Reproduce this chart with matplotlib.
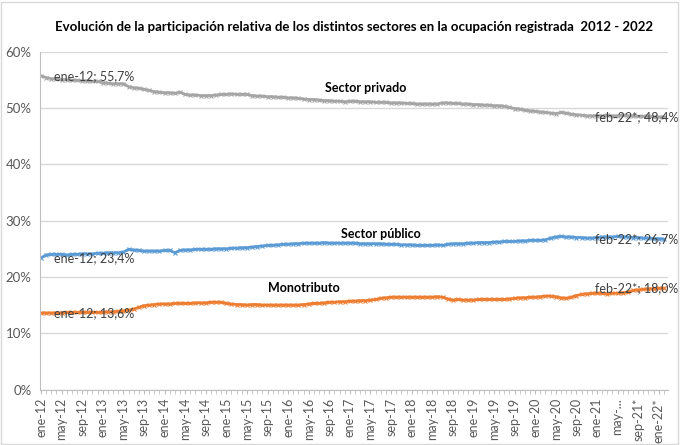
import numpy as np
import matplotlib.pyplot as plt
from matplotlib.patches import Rectangle

plt.rcParams['font.family'] = ['Lato', 'DejaVu Sans']

# participacion mensual (%), ene-12 a feb-22
privado = [55.7, 55.4, 55.2, 55.1, 55.0, 55.0, 54.9, 54.9, 54.8, 54.8, 54.7, 54.7,
           54.5, 54.4, 54.3, 54.3, 54.3, 53.8, 53.6, 53.5, 53.3, 53.1, 52.9, 52.8,
           52.7, 52.7, 52.6, 52.8, 52.4, 52.3, 52.3, 52.2, 52.2, 52.2, 52.3, 52.4,
           52.4, 52.5, 52.4, 52.4, 52.4, 52.2, 52.1, 52.1, 52.0, 52.0, 51.9, 51.9,
           51.8, 51.8, 51.7, 51.6, 51.5, 51.5, 51.4, 51.3, 51.3, 51.2, 51.2, 51.1,
           51.2, 51.2, 51.1, 51.1, 51.1, 51.0, 51.0, 51.0, 50.9, 50.9, 50.9, 50.8,
           50.8, 50.7, 50.7, 50.7, 50.7, 50.7, 50.9, 50.9, 50.8, 50.8, 50.7, 50.7,
           50.6, 50.6, 50.5, 50.5, 50.4, 50.4, 50.3, 50.1, 49.9, 49.8, 49.6, 49.5,
           49.4, 49.3, 49.2, 49.1, 49.0, 49.2, 49.1, 48.9, 48.8, 48.7, 48.6, 48.6,
           48.6, 48.6, 48.7, 48.6, 48.6, 48.7, 48.6, 48.6, 48.5, 48.5, 48.5, 48.4,
           48.4, 48.4]
publico = [23.4, 23.9, 24.0, 24.0, 24.0, 23.9, 24.0, 24.0, 24.1, 24.1, 24.1, 24.2,
           24.2, 24.3, 24.3, 24.3, 24.4, 24.9, 24.8, 24.7, 24.6, 24.6, 24.6, 24.6,
           24.7, 24.7, 24.3, 24.7, 24.8, 24.8, 24.9, 24.9, 24.9, 24.9, 25.0, 25.0,
           25.0, 25.1, 25.1, 25.2, 25.2, 25.3, 25.4, 25.5, 25.6, 25.6, 25.7, 25.8,
           25.8, 25.9, 25.9, 26.0, 26.0, 26.0, 26.0, 26.1, 26.0, 26.0, 26.0, 26.0,
           26.0, 26.0, 25.9, 25.9, 25.9, 25.9, 25.9, 25.8, 25.8, 25.8, 25.7, 25.7,
           25.7, 25.6, 25.6, 25.6, 25.6, 25.7, 25.6, 25.8, 25.9, 25.9, 25.9, 26.0,
           26.0, 26.1, 26.1, 26.1, 26.2, 26.2, 26.3, 26.3, 26.3, 26.4, 26.4, 26.5,
           26.5, 26.5, 26.6, 26.9, 27.1, 27.2, 27.1, 27.1, 27.0, 27.0, 26.9, 26.9,
           27.0, 27.1, 27.1, 27.1, 27.2, 27.1, 27.1, 27.0, 27.0, 26.9, 26.9, 26.8,
           26.8, 26.7]
monotributo = [13.6, 13.6, 13.6, 13.6, 13.6, 13.7, 13.7, 13.7, 13.7, 13.7, 13.7, 13.7,
               13.7, 13.8, 13.8, 13.9, 14.0, 14.1, 14.3, 14.6, 14.9, 15.0, 15.1, 15.2,
               15.2, 15.2, 15.3, 15.3, 15.3, 15.3, 15.4, 15.4, 15.4, 15.5, 15.5, 15.5,
               15.3, 15.2, 15.1, 15.1, 15.0, 15.1, 15.1, 15.0, 15.0, 15.0, 15.0, 15.0,
               15.0, 15.0, 15.0, 15.1, 15.2, 15.3, 15.3, 15.4, 15.5, 15.5, 15.6, 15.6,
               15.7, 15.7, 15.8, 15.8, 15.9, 16.0, 16.2, 16.3, 16.4, 16.4, 16.4, 16.4,
               16.4, 16.4, 16.4, 16.4, 16.4, 16.5, 16.4, 16.1, 15.9, 16.0, 15.9, 15.9,
               15.9, 16.0, 16.0, 16.0, 16.0, 16.0, 16.0, 16.1, 16.2, 16.3, 16.3, 16.4,
               16.4, 16.5, 16.6, 16.6, 16.5, 16.3, 16.2, 16.4, 16.7, 16.9, 17.0, 17.1,
               17.1, 17.1, 17.0, 17.1, 17.1, 17.2, 17.3, 17.6, 17.7, 17.8, 17.9, 17.9,
               18.0, 18.0]

meses = ['ene', 'may', 'sep']
etiquetas = []
for a in range(12, 22):
    for m in meses:
        etiquetas.append('{}-{}'.format(m, a))
etiquetas[-2] = 'may-...'
etiquetas[-1] = 'sep-21*'
etiquetas.append('ene-22*')

series = [('Sector privado', privado, '#A5A5A5', '55,7%', '48,4%'),
          ('Sector público', publico, '#5B9BD5', '23,4%', '26,7%'),
          ('Monotributo', monotributo, '#ED7D31', '13,6%', '18,0%')]
nombres_pos = {'Sector privado': (63, 53.5), 'Sector público': (66, 27.6), 'Monotributo': (51, 18.0)}

fig = plt.figure(figsize=(6.8, 4.45), dpi=100)
ax = fig.add_axes([0.0588, 0.1245, 0.9232, 0.7595])
fig.patches.append(Rectangle((0.002, 0.003), 0.995, 0.993, transform=fig.transFigure,
                             fill=False, edgecolor='#D9D9D9', linewidth=1))

x = np.arange(len(privado))
for nombre, vals, col, ini, fin in series:
    ax.plot(x, vals, color=col, linewidth=2.0, marker='x', markersize=2.5,
            markeredgewidth=0.8)
    ax.text(x[0] + 2.5, vals[0], 'ene-12; ' + ini, fontsize=9, color='#404040',
            va='center', ha='left')
    ax.text(123.8, vals[-1], 'feb-22*; ' + fin, fontsize=9, color='#404040',
            va='center', ha='right', clip_on=False)
    nx, ny = nombres_pos[nombre]
    ax.text(nx, ny, nombre, fontsize=9, fontweight='bold', color='black',
            ha='center', va='center')

ax.set_xlim(-0.2, 121.75)
ax.set_ylim(0, 60)
ax.set_yticks(range(0, 61, 10))
ax.set_yticklabels(['{}%'.format(v) for v in range(0, 61, 10)], fontsize=9.5, color='#595959')
ax.set_xticks(range(0, 121, 4))
ax.set_xticklabels(etiquetas, rotation=90, fontsize=9, color='#595959')
ax.set_xticks(x, minor=True)
ax.tick_params(axis='x', which='both', length=3, color='#BFBFBF', pad=3)
ax.tick_params(axis='y', length=0, pad=6)
ax.grid(axis='y', color='#D9D9D9', linewidth=1)
ax.set_axisbelow(True)
for s in ['top', 'right']:
    ax.spines[s].set_visible(False)
for s in ['left', 'bottom']:
    ax.spines[s].set_color('#BFBFBF')

fig.text(0.52, 0.94, 'Evolución de la participación relativa de los distintos sectores en la ocupación registrada  2012 - 2022',
         fontsize=9.5, fontweight='bold', ha='center', va='center')

fig.savefig('out.png', dpi=100)
